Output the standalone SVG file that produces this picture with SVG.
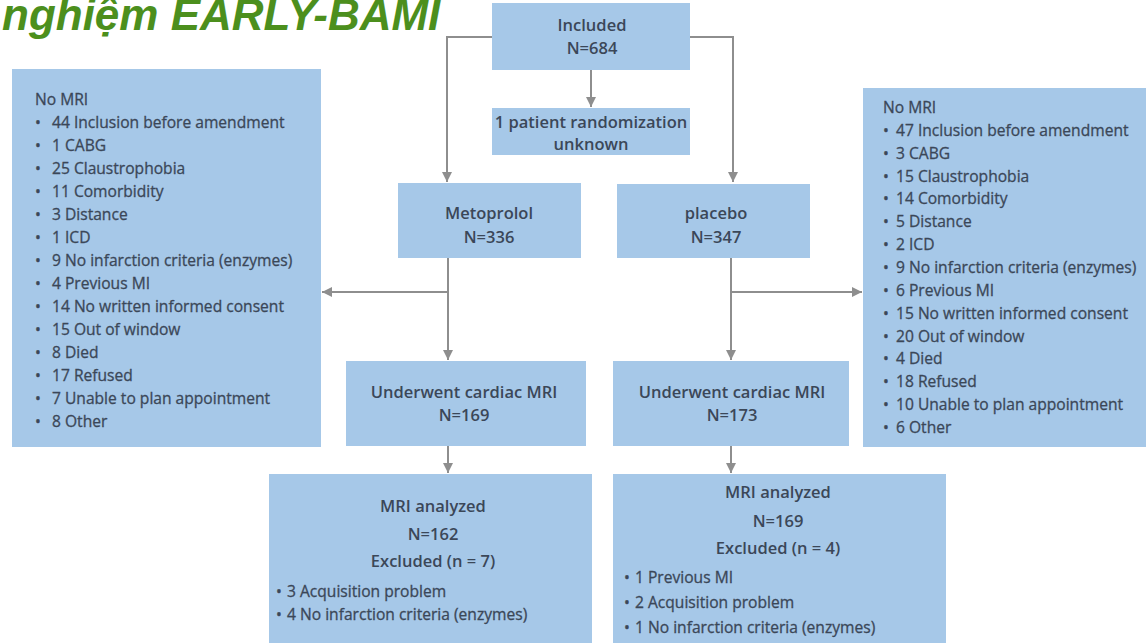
<svg xmlns="http://www.w3.org/2000/svg" width="1146" height="643" viewBox="0 0 1146 643">
  <style>
    .box { fill: #a6c8e8; }
    .t { font-family: "Open Sans", "Noto Sans", "Liberation Sans", sans-serif; fill: #3b4758; font-size: 15.6px; stroke: #3b4758; stroke-width: 0.3px; }
    .h { font-size: 16.5px; font-weight: 600; text-anchor: middle; stroke-width: 0; }
    .title { font-family: "Liberation Sans", Arial, sans-serif; font-size: 44px; font-weight: bold; font-style: italic; fill: #4c8f1d; }
    .conn { fill: none; stroke: #8e8e8e; stroke-width: 2; }
  </style>
  <defs>
    <marker id="arrow" viewBox="0 0 10 10" refX="10" refY="5" markerWidth="5" markerHeight="5" orient="auto" markerUnits="strokeWidth">
      <path d="M0,0 L10,5 L0,10 z" fill="#8e8e8e"/>
    </marker>
  </defs>
  <rect width="1146" height="643" fill="#ffffff"/>

  <text class="title" x="2" y="30">nghiệm EARLY-BAMI</text>

  <!-- connectors -->
  <g id="connectors" class="conn">
    <polyline points="492,37 447,37 447,182" marker-end="url(#arrow)"/>
    <polyline points="690,37 733,37 733,182" marker-end="url(#arrow)"/>
    <line x1="591" y1="70" x2="591" y2="107" marker-end="url(#arrow)"/>
    <line x1="448" y1="258" x2="448" y2="360" marker-end="url(#arrow)"/>
    <line x1="448" y1="292" x2="322" y2="292" marker-end="url(#arrow)"/>
    <line x1="731" y1="258" x2="731" y2="360" marker-end="url(#arrow)"/>
    <line x1="731" y1="292" x2="862" y2="292" marker-end="url(#arrow)"/>
    <line x1="448" y1="446" x2="448" y2="473" marker-end="url(#arrow)"/>
    <line x1="731" y1="446" x2="731" y2="473" marker-end="url(#arrow)"/>
  </g>

  <g id="included">
    <rect class="box" x="492" y="3" width="198" height="67"/>
    <text class="t h" x="592" y="31">Included</text>
    <text class="t h" x="592" y="54">N=684</text>
  </g>

  <g id="unknown">
    <rect class="box" x="492" y="108" width="198" height="47"/>
    <text class="t h" x="591" y="128">1 patient randomization</text>
    <text class="t h" x="591" y="150">unknown</text>
  </g>

  <g id="metoprolol">
    <rect class="box" x="398" y="183" width="183" height="75"/>
    <text class="t h" x="489" y="219">Metoprolol</text>
    <text class="t h" x="489" y="243">N=336</text>
  </g>

  <g id="placebo">
    <rect class="box" x="617" y="184" width="193" height="74"/>
    <text class="t h" x="716" y="219">placebo</text>
    <text class="t h" x="716" y="243">N=347</text>
  </g>

  <g id="mri-metoprolol">
    <rect class="box" x="346" y="361" width="240" height="85"/>
    <text class="t h" x="464" y="398">Underwent cardiac MRI</text>
    <text class="t h" x="464" y="421">N=169</text>
  </g>

  <g id="mri-placebo">
    <rect class="box" x="613" y="361" width="236" height="85"/>
    <text class="t h" x="732" y="398">Underwent cardiac MRI</text>
    <text class="t h" x="732" y="421">N=173</text>
  </g>

  <g id="no-mri-metoprolol">
    <rect class="box" x="12" y="69" width="309" height="378"/>
    <text class="t" x="35" y="105">No MRI</text>
    <g class="t">
      <text x="35" y="128">•</text><text x="52" y="128">44 Inclusion before amendment</text>
      <text x="35" y="151">•</text><text x="52" y="151">1 CABG</text>
      <text x="35" y="174">•</text><text x="52" y="174">25 Claustrophobia</text>
      <text x="35" y="197">•</text><text x="52" y="197">11 Comorbidity</text>
      <text x="35" y="220">•</text><text x="52" y="220">3 Distance</text>
      <text x="35" y="243">•</text><text x="52" y="243">1 ICD</text>
      <text x="35" y="266">•</text><text x="52" y="266">9 No infarction criteria (enzymes)</text>
      <text x="35" y="289">•</text><text x="52" y="289">4 Previous MI</text>
      <text x="35" y="312">•</text><text x="52" y="312">14 No written informed consent</text>
      <text x="35" y="335">•</text><text x="52" y="335">15 Out of window</text>
      <text x="35" y="358">•</text><text x="52" y="358">8 Died</text>
      <text x="35" y="381">•</text><text x="52" y="381">17 Refused</text>
      <text x="35" y="404">•</text><text x="52" y="404">7 Unable to plan appointment</text>
      <text x="35" y="427">•</text><text x="52" y="427">8 Other</text>
    </g>
  </g>

  <g id="no-mri-placebo">
    <rect class="box" x="863" y="88" width="283" height="359"/>
    <text class="t" x="883" y="113">No MRI</text>
    <g class="t">
      <text x="883" y="136">•</text><text x="896" y="136">47 Inclusion before amendment</text>
      <text x="883" y="159">•</text><text x="896" y="159">3 CABG</text>
      <text x="883" y="182">•</text><text x="896" y="182">15 Claustrophobia</text>
      <text x="883" y="204">•</text><text x="896" y="204">14 Comorbidity</text>
      <text x="883" y="227">•</text><text x="896" y="227">5 Distance</text>
      <text x="883" y="250">•</text><text x="896" y="250">2 ICD</text>
      <text x="883" y="273">•</text><text x="896" y="273">9 No infarction criteria (enzymes)</text>
      <text x="883" y="296">•</text><text x="896" y="296">6 Previous MI</text>
      <text x="883" y="319">•</text><text x="896" y="319">15 No written informed consent</text>
      <text x="883" y="342">•</text><text x="896" y="342">20 Out of window</text>
      <text x="883" y="364">•</text><text x="896" y="364">4 Died</text>
      <text x="883" y="387">•</text><text x="896" y="387">18 Refused</text>
      <text x="883" y="410">•</text><text x="896" y="410">10 Unable to plan appointment</text>
      <text x="883" y="433">•</text><text x="896" y="433">6 Other</text>
    </g>
  </g>

  <g id="analyzed-metoprolol">
    <rect class="box" x="269" y="474" width="323" height="169"/>
    <text class="t h" x="433" y="512">MRI analyzed</text>
    <text class="t h" x="433" y="540">N=162</text>
    <text class="t h" x="433" y="567">Excluded (n = 7)</text>
    <g class="t">
      <text x="276" y="597">•</text><text x="287" y="597">3 Acquisition problem</text>
      <text x="276" y="620">•</text><text x="287" y="620">4 No infarction criteria (enzymes)</text>
    </g>
  </g>

  <g id="analyzed-placebo">
    <rect class="box" x="613" y="474" width="333" height="169"/>
    <text class="t h" x="778" y="498">MRI analyzed</text>
    <text class="t h" x="778" y="527">N=169</text>
    <text class="t h" x="778" y="554">Excluded (n = 4)</text>
    <g class="t">
      <text x="624" y="583">•</text><text x="635" y="583">1 Previous MI</text>
      <text x="624" y="608">•</text><text x="635" y="608">2 Acquisition problem</text>
      <text x="624" y="633">•</text><text x="635" y="633">1  No infarction criteria (enzymes)</text>
    </g>
  </g>
</svg>
